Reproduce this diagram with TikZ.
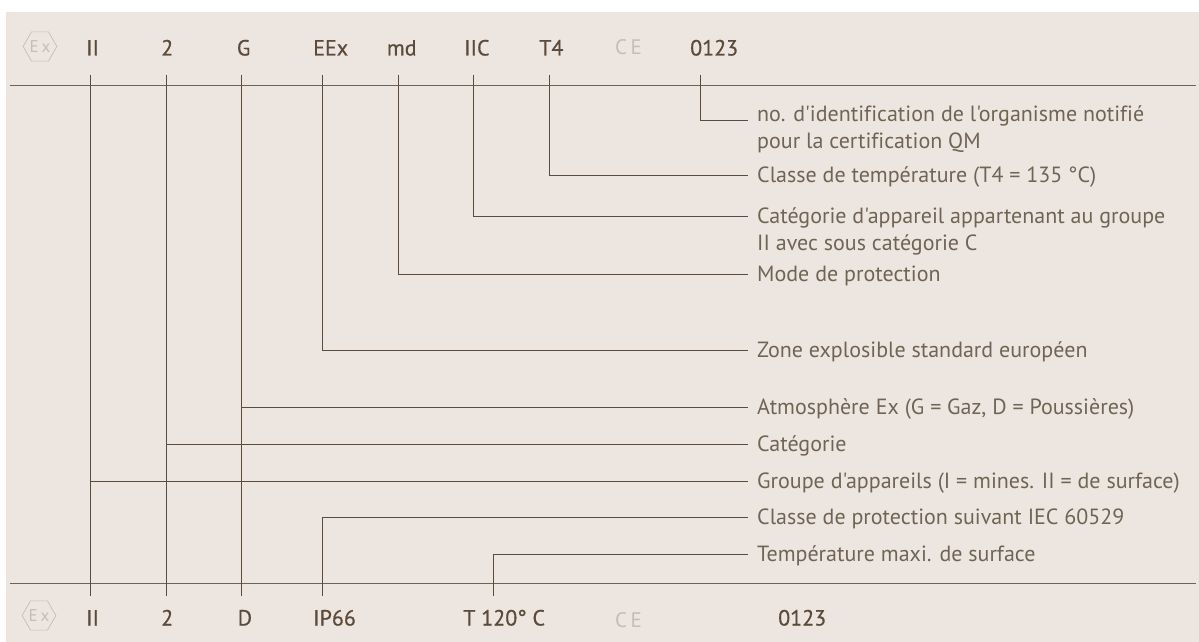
\documentclass[tikz,border=0pt]{standalone}
\usepackage{fontspec}
\setmainfont{PT Sans}
\newfontfamily\notefont[Ligatures=NoCommon]{PT Sans}
\newfontfamily\codefont[FakeBold=0.6]{PT Sans}
\usepackage{xcolor}
\usetikzlibrary{shapes.geometric}
\definecolor{pagebg}{RGB}{237,230,224}
\definecolor{inkc}{RGB}{92,74,58}
\definecolor{notec}{RGB}{112,100,84}
\definecolor{markc}{RGB}{196,190,180}
\tikzset{
  code/.style={anchor=west,inner sep=0pt,text=inkc,text height=17pt,text depth=0pt,font=\codefont\fontsize{22}{24}\selectfont},
  note/.style={anchor=west,inner xsep=9.5pt,inner ysep=0pt,text=notec,align=left,font=\notefont\fontsize{22}{27}\selectfont},
  oneline/.style={note,text height=18pt,text depth=4pt},
  lead/.style={draw=inkc,line width=0.8pt},
  rule/.style={draw=inkc!85!pagebg,line width=0.9pt},
  exmark/.style={draw=markc,line width=0.7pt,regular polygon,regular polygon sides=6,minimum size=31pt,inner sep=0pt,text=markc,font=\notefont\fontsize{17}{17}\selectfont},
  cemark/.style={anchor=west,inner sep=0pt,text=markc,text height=15pt,text depth=0pt,font=\notefont\fontsize{21}{21}\selectfont}
}
\begin{document}
\begin{tikzpicture}[x=1pt,y=-1pt]
  \useasboundingbox (0,0) rectangle (1199,642);
  \fill[pagebg] (6,12) rectangle (1199,642);
  % top row
  \node[exmark] (extop) at (40,46.5) {E\,x};
  \node[code] (tII) at (86,47) {II};
  \node[code] (tcat) at (161,47) {2};
  \node[code] (tG) at (236.7,47) {G};
  \node[code] (tEEx) at (313,47) {EEx};
  \node[code] (tmd) at (386.7,47) {md};
  \node[code] (tIIC) at (464,47) {IIC};
  \node[code] (tT) at (539,47) {T4};
  \node[cemark] (cetop) at (615,47) {C\,E};
  \node[code] (tnum) at (690,47) {0123};
  % bottom row
  \node[exmark] (exbot) at (39,615.5) {E\,x};
  \node[code] (bII) at (86,617) {II};
  \node[code] (bcat) at (161,617) {2};
  \node[code] (bD) at (237.5,617) {D};
  \node[code] (bIP) at (313,617) {IP66};
  \node[code] (bT) at (463,617) {T 120° C};
  \node[cemark] (cebot) at (615,619.5) {C\,E};
  \node[code] (bnum) at (778,617) {0123};
  % free ends of the leaders next to the codes
  \coordinate (sII) at (90.5,75); \coordinate (ssII) at (90.5,596);
  \coordinate (scat) at (166,75); \coordinate (sscat) at (166,596);
  \coordinate (sG) at (241.5,75); \coordinate (ssD) at (241.5,596);
  \coordinate (sEEx) at (322.5,75); \coordinate (ssIP) at (322.5,596);
  \coordinate (smd) at (398,75);
  \coordinate (sIIC) at (473.5,75);
  \coordinate (sT) at (549,75);
  \coordinate (snum) at (700.5,75);
  \coordinate (ssT) at (493.5,596);
  % notes
  \node[note] (nnum) at (747.5,129) {no. d'identification de l'organisme notifié\\pour la certification QM};
  \node[oneline] (nT) at (747.5,175) {Classe de température (T4 = 135 °C)};
  \node[note] (nIIC) at (747.5,231.5) {Catégorie d'appareil appartenant au groupe\\II avec sous catégorie C};
  \node[oneline] (nmd) at (747.5,274) {Mode de protection};
  \node[oneline] (nEEx) at (747.5,350) {Zone explosible standard européen};
  \node[oneline] (nG) at (747.5,407.5) {Atmosphère Ex (G = Gaz, D = Poussières)};
  \node[oneline] (ncat) at (747.5,444) {Catégorie};
  \node[oneline] (nII) at (747.5,481) {Groupe d'appareils (I = mines. II = de surface)};
  \node[oneline] (nIP) at (747.5,517) {Classe de protection suivant IEC 60529};
  \node[oneline] (nTs) at (747.5,554) {Température maxi. de surface};
  % rules
  \coordinate (rtop) at (9.5,85); \coordinate (rtopr) at (1196,85);
  \coordinate (rbot) at (9.5,583.5); \coordinate (rbotr) at (1196,583.5);
  \draw[rule] (rtop) -- (rtopr);
  \draw[rule] (rbot) -- (rbotr);
  % leaders
  \draw[lead] (sII) -- (ssII);
  \draw[lead] (scat) -- (sscat);
  \draw[lead] (sG) -- (ssD);
  \draw[lead] (sII |- nII.west) -- (nII.west);
  \draw[lead] (scat |- ncat.west) -- (ncat.west);
  \draw[lead] (sG |- nG.west) -- (nG.west);
  \draw[lead] (sEEx) |- (nEEx.west);
  \draw[lead] (smd) |- (nmd.west);
  \draw[lead] (sIIC) |- ([yshift=15.5pt]nIIC.west);
  \draw[lead] (sT) |- (nT.west);
  \draw[lead] (snum) |- ([yshift=9pt]nnum.west);
  \draw[lead] (ssIP) |- (nIP.west);
  \draw[lead] (ssT) |- (nTs.west);
\end{tikzpicture}
\end{document}
